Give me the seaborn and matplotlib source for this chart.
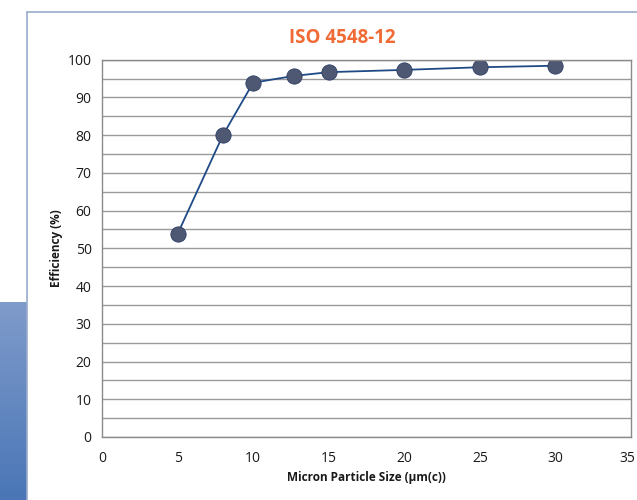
import numpy as np
import pandas as pd
import matplotlib
matplotlib.use("Agg")
import matplotlib.pyplot as plt
import matplotlib.transforms as mtransforms
import seaborn as sns

# data
particle_size = [5, 8, 10, 12.7, 15, 20, 25, 30]
efficiency = [53.8, 80.0, 93.9, 95.7, 96.7, 97.3, 98.0, 98.4]
x_ticks = [0, 5, 10, 15, 20, 25, 30, 35]
y_ticks = [0, 10, 20, 30, 40, 50, 60, 70, 80, 90, 100]

df = pd.DataFrame({"size": particle_size, "eff": efficiency})

sns.set_style("white")
plt.rcParams["font.family"] = ["Open Sans", "DejaVu Sans"]

fig = plt.figure(figsize=(6.37, 5.0), dpi=100)

# blue panel on the left and the frame around the chart
panel = fig.add_axes([0, 0, 27 / 637, 198 / 500])
grad = np.linspace(0, 1, 100).reshape(-1, 1)
panel.imshow(grad, aspect="auto", cmap=matplotlib.colors.LinearSegmentedColormap.from_list(
    "pan", ["#4a76b6", "#7f9bcb"]), origin="lower")
panel.axis("off")
fig.add_artist(plt.Line2D([27 / 637, 27 / 637], [0, 1 - 12 / 500], color="#9aaccb", lw=1.2))
fig.add_artist(plt.Line2D([27 / 637, 1], [1 - 12 / 500, 1 - 12 / 500], color="#9aaccb", lw=1.2))

ax = fig.add_axes([102 / 637, 63 / 500, 529 / 637, 377.3 / 500])

sns.lineplot(data=df, x="size", y="eff", ax=ax, color="#1f4a86", lw=1.3,
             marker="o", markersize=11, markerfacecolor="#4f5872",
             markeredgecolor="#2c3f66", markeredgewidth=0.6)

ax.set_xlim(0, 35)
ax.set_ylim(0, 100)
ax.set_xticks(x_ticks)
ax.set_yticks(y_ticks)
ax.set_yticks(np.arange(5, 100, 10), minor=True)
ax.grid(axis="y", which="both", color="#9a9a9a", lw=1.0)
ax.set_axisbelow(True)
for s in ax.spines.values():
    s.set_color("#8a8a8a")
    s.set_linewidth(1.0)
ax.tick_params(axis="both", which="major", length=4, color="#8a8a8a",
               labelsize=10, labelcolor="#1a1a1a", direction="out")
ax.tick_params(axis="y", which="minor", length=0)
ax.tick_params(axis="x", pad=6)

# last x label sits against the right edge, nudge it left a little
last = ax.get_xticklabels()[-1]
last.set_transform(last.get_transform() + mtransforms.ScaledTranslation(-4 / 100, 0, fig.dpi_scale_trans))

ax.set_xlabel("Micron Particle Size (µm(c))", fontsize=8.5, fontweight="bold",
              color="#1a1a1a", labelpad=4)
ax.set_ylabel("Efficiency (%)", fontsize=8.5, fontweight="bold",
              color="#1a1a1a", labelpad=3)

fig.text(342 / 637, 1 - 38 / 500, "ISO 4548-12", ha="center", va="center",
         fontsize=13.5, fontweight="bold", color="#f06b35")

fig.savefig("out.png", dpi=100)
